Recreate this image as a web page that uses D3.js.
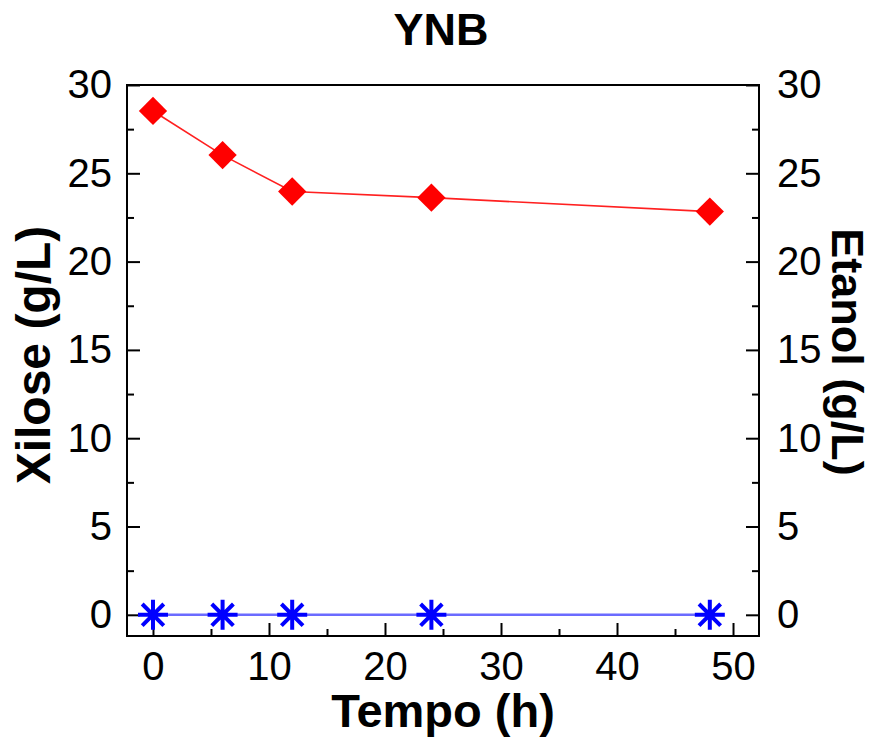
<!DOCTYPE html>
<html>
<head>
<meta charset="utf-8">
<script src="https://cdn.jsdelivr.net/npm/d3@7"></script>
<style>
  body { margin: 0; background: #fff; }
  svg text { font-family: "Liberation Sans", Arial, sans-serif; fill: #000; }
</style>
</head>
<body>
<div id="chart"></div>
<script>
// data
var tempo = [0, 6, 12, 24, 48];
var xilose = [28.53, 26.03, 23.97, 23.62, 22.83];
var etanol = [0, 0, 0, 0, 0];
var xTicks = [0, 10, 20, 30, 40, 50];
var yTicks = [0, 5, 10, 15, 20, 25, 30];

var svgWidth = 874;
var svgHeight = 740;
var margin = { top: 85, right: 115, bottom: 104, left: 127 };
var width = svgWidth - margin.left - margin.right;
var height = svgHeight - margin.top - margin.bottom;

var svg = d3.select("#chart")
    .append("svg")
    .attr("width", svgWidth)
    .attr("height", svgHeight);

var chartGroup = svg.append("g")
    .attr("transform", `translate(${margin.left}, ${margin.top})`);

// scales
var xScale = d3.scaleLinear().domain([-2.24, 52.24]).range([0, width]);
var yLeft = d3.scaleLinear().domain([-1.2, 30]).range([height, 0]);
var yRight = d3.scaleLinear().domain([-1.2, 30]).range([height, 0]);

var minorX = d3.range(5, 50, 10);
var minorY = d3.range(2.5, 30, 5);

// frame
chartGroup.append("rect")
    .attr("width", width)
    .attr("height", height)
    .attr("fill", "none")
    .attr("stroke", "#000")
    .attr("stroke-width", 2);

function styleAxis(g, size) {
    g.select(".domain").remove();
    g.selectAll(".tick line").attr("stroke", "#000").attr("stroke-width", 2);
    g.selectAll("text").style("font-size", size + "px");
}

// bottom axis
var bottomAxis = chartGroup.append("g")
    .attr("transform", `translate(0, ${height})`)
    .call(d3.axisBottom(xScale).tickValues(xTicks).tickSize(-13).tickPadding(16));
styleAxis(bottomAxis, 40);
var bottomMinor = chartGroup.append("g")
    .attr("transform", `translate(0, ${height})`)
    .call(d3.axisBottom(xScale).tickValues(minorX).tickSize(-7).tickFormat(""));
styleAxis(bottomMinor, 40);

// left axis
var leftAxis = chartGroup.append("g")
    .call(d3.axisLeft(yLeft).tickValues(yTicks).tickSize(-13).tickPadding(15));
styleAxis(leftAxis, 40);
var leftMinor = chartGroup.append("g")
    .call(d3.axisLeft(yLeft).tickValues(minorY).tickSize(-7).tickFormat(""));
styleAxis(leftMinor, 40);

// right axis
var rightAxis = chartGroup.append("g")
    .attr("transform", `translate(${width}, 0)`)
    .call(d3.axisRight(yRight).tickValues(yTicks).tickSize(-13).tickPadding(18));
styleAxis(rightAxis, 40);
var rightMinor = chartGroup.append("g")
    .attr("transform", `translate(${width}, 0)`)
    .call(d3.axisRight(yRight).tickValues(minorY).tickSize(-7).tickFormat(""));
styleAxis(rightMinor, 40);

// etanol line + stars
var etLine = d3.line()
    .x((d, i) => xScale(tempo[i]))
    .y(d => yRight(d));
chartGroup.append("path")
    .datum(etanol)
    .attr("d", etLine)
    .attr("fill", "none")
    .attr("stroke", "#6b6bff")
    .attr("stroke-width", 2.5);

var r = 15;
var starPath = `M0,${-r}L0,${r}M${-r},0L${r},0` +
    `M${-r * 0.72},${-r * 0.72}L${r * 0.72},${r * 0.72}` +
    `M${-r * 0.72},${r * 0.72}L${r * 0.72},${-r * 0.72}`;
chartGroup.selectAll(".star")
    .data(etanol)
    .enter()
    .append("path")
    .attr("class", "star")
    .attr("transform", (d, i) => `translate(${xScale(tempo[i])}, ${yRight(d)})`)
    .attr("d", starPath)
    .attr("stroke", "#0000ff")
    .attr("stroke-width", 4)
    .attr("fill", "none");

// xilose line + diamonds
var xiLine = d3.line()
    .x((d, i) => xScale(tempo[i]))
    .y(d => yLeft(d));
chartGroup.append("path")
    .datum(xilose)
    .attr("d", xiLine)
    .attr("fill", "none")
    .attr("stroke", "#ff2020")
    .attr("stroke-width", 1.6);

chartGroup.selectAll(".diamond")
    .data(xilose)
    .enter()
    .append("path")
    .attr("class", "diamond")
    .attr("transform", (d, i) => `translate(${xScale(tempo[i])}, ${yLeft(d)}) rotate(45)`)
    .attr("d", d3.symbol().type(d3.symbolSquare).size(400))
    .attr("fill", "#ff0000");

// labels
svg.append("text")
    .attr("x", 441)
    .attr("y", 45)
    .attr("text-anchor", "middle")
    .style("font-size", "45px")
    .style("font-weight", "bold")
    .text("YNB");

svg.append("text")
    .attr("x", 443)
    .attr("y", 727)
    .attr("text-anchor", "middle")
    .style("font-size", "47px")
    .style("font-weight", "bold")
    .text("Tempo (h)");

svg.append("text")
    .attr("transform", "translate(50, 355) rotate(-90)")
    .attr("text-anchor", "middle")
    .style("font-size", "48px")
    .style("font-weight", "bold")
    .text("Xilose (g/L)");

svg.append("text")
    .attr("transform", "translate(832, 352) rotate(90)")
    .attr("text-anchor", "middle")
    .style("font-size", "45px")
    .style("font-weight", "bold")
    .text("Etanol (g/L)");
</script>
</body>
</html>
